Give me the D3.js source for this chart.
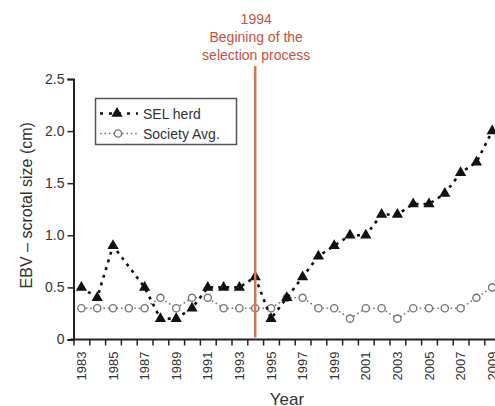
<!DOCTYPE html>
<html>
<head>
<meta charset="utf-8">
<script src="https://cdn.jsdelivr.net/npm/d3@7"></script>
<style>
  body { margin: 0; background: #fff; }
  svg { display: block; font-family: "Liberation Sans", Arial, sans-serif; }
</style>
</head>
<body>
<div id="chart"></div>
<script>
// data
const years = d3.range(1983, 2010);
const selHerd = [0.5, 0.4, 0.9, null, 0.5, 0.2, 0.2, 0.3, 0.5, 0.5, 0.5, 0.6, 0.2, 0.4,
  0.6, 0.8, 0.9, 1.0, 1.0, 1.2, 1.2, 1.3, 1.3, 1.4, 1.6, 1.7, 2.0];
const societyAvg = [0.3, 0.3, 0.3, 0.3, 0.3, 0.4, 0.3, 0.4, 0.4, 0.3, 0.3, 0.3, 0.3, 0.4,
  0.4, 0.3, 0.3, 0.2, 0.3, 0.3, 0.2, 0.3, 0.3, 0.3, 0.3, 0.4, 0.5];
const yTicks = [0, 0.5, 1.0, 1.5, 2.0, 2.5];
const labelYears = years.filter(y => (y - 1983) % 2 === 0);
const selectionYear = 1994;
const annotation = ['1994', 'Begining of the', 'selection process'];

const W = 495, H = 406;
const margin = {top: 79, left: 73.5};
const step = 15.8;
const plotH = 260.5;

const svg = d3.select('#chart').append('svg')
  .attr('width', W)
  .attr('height', H);

// year bands: points sit in the middle, ticks on the edges
const x = d3.scaleLinear()
  .domain([years[0] - 0.5, years[years.length - 1] + 0.5])
  .range([margin.left, margin.left + step * years.length]);
const y = d3.scaleLinear()
  .domain([0, 2.5])
  .range([margin.top + plotH, margin.top]);

// y axis
const yAxis = svg.append('g')
  .attr('transform', `translate(${margin.left},0)`)
  .call(d3.axisLeft(y).tickValues(yTicks).tickSize(6).tickPadding(3)
    .tickFormat(d => d === 0 ? '0' : d3.format('.1f')(d)));
yAxis.select('.domain').attr('stroke', '#222').attr('stroke-width', 2);
yAxis.selectAll('.tick line').attr('stroke', '#222').attr('stroke-width', 1.5);
yAxis.selectAll('.tick text')
  .attr('fill', '#333')
  .style('font-size', '14px');

// x axis
const xAxis = svg.append('g')
  .attr('transform', `translate(0,${y(0)})`)
  .call(d3.axisBottom(x)
    .tickValues(years.map(v => v - 0.5).concat([years[years.length - 1] + 0.5]))
    .tickSize(6).tickSizeOuter(0).tickFormat(''));
xAxis.select('.domain').attr('stroke', '#222').attr('stroke-width', 2)
  .attr('d', `M${margin.left - 3},0H${W}`);
xAxis.selectAll('.tick line').attr('stroke', '#222').attr('stroke-width', 1.5);

svg.append('g')
  .selectAll('text')
  .data(labelYears)
  .join('text')
    .attr('transform', d => `translate(${x(d) + 4.5},${y(0) + 12}) rotate(-90)`)
    .attr('text-anchor', 'end')
    .attr('fill', '#333')
    .style('font-size', '13px')
    .text(d => d);

// axis titles
svg.append('text')
  .attr('transform', `translate(32,${y(1.25) - 4}) rotate(-90)`)
  .attr('text-anchor', 'middle')
  .attr('fill', '#333')
  .style('font-size', '16px')
  .text('EBV – scrotal size (cm)');

svg.append('text')
  .attr('x', 287)
  .attr('y', 405)
  .attr('text-anchor', 'middle')
  .attr('fill', '#333')
  .style('font-size', '17px')
  .text('Year');

// series
const selPts = years.map((yr, i) => ({yr, v: selHerd[i]})).filter(d => d.v !== null);
const socPts = years.map((yr, i) => ({yr, v: societyAvg[i]}));

const line = d3.line().x(d => x(d.yr)).y(d => y(d.v));

svg.append('path')
  .datum(socPts)
  .attr('d', line)
  .attr('fill', 'none')
  .attr('stroke', '#777')
  .attr('stroke-width', 1.6)
  .attr('stroke-dasharray', '1.6,2.8');

svg.append('g')
  .selectAll('circle')
  .data(socPts)
  .join('circle')
    .attr('cx', d => x(d.yr))
    .attr('cy', d => y(d.v))
    .attr('r', 3.6)
    .attr('fill', '#fff')
    .attr('stroke', '#777')
    .attr('stroke-width', 1.4);

svg.append('path')
  .datum(selPts)
  .attr('d', line)
  .attr('fill', 'none')
  .attr('stroke', '#111')
  .attr('stroke-width', 2.6)
  .attr('stroke-dasharray', '3,5');

const tri = d3.symbol().type(d3.symbolTriangle).size(55);
svg.append('g')
  .selectAll('path')
  .data(selPts)
  .join('path')
    .attr('transform', d => `translate(${x(d.yr)},${y(d.v)})`)
    .attr('d', tri)
    .attr('fill', '#111');

// legend
const lg = svg.append('g');
lg.append('rect')
  .attr('x', 95.5).attr('y', 98.5)
  .attr('width', 141).attr('height', 46)
  .attr('fill', '#fff')
  .attr('stroke', '#555')
  .attr('stroke-width', 1.5);
const legendRows = [
  {name: 'SEL herd', yy: 113.5},
  {name: 'Society Avg.', yy: 133.5}
];
lg.append('line')
  .attr('x1', 100).attr('x2', 138).attr('y1', legendRows[0].yy).attr('y2', legendRows[0].yy)
  .attr('stroke', '#111').attr('stroke-width', 2.6).attr('stroke-dasharray', '3,6');
lg.append('path')
  .attr('transform', `translate(117,${legendRows[0].yy})`)
  .attr('d', tri)
  .attr('fill', '#111');
lg.append('line')
  .attr('x1', 100).attr('x2', 138).attr('y1', legendRows[1].yy).attr('y2', legendRows[1].yy)
  .attr('stroke', '#777').attr('stroke-width', 1.6).attr('stroke-dasharray', '1.6,2.8');
lg.append('circle')
  .attr('cx', 118).attr('cy', legendRows[1].yy).attr('r', 3.6)
  .attr('fill', '#fff').attr('stroke', '#777').attr('stroke-width', 1.4);
lg.selectAll('text.lbl')
  .data(legendRows)
  .join('text')
    .attr('class', 'lbl')
    .attr('x', 143)
    .attr('y', d => d.yy + 5)
    .attr('fill', '#333')
    .style('font-size', '14px')
    .text(d => d.name);

// selection marker
svg.append('line')
  .attr('x1', x(selectionYear)).attr('x2', x(selectionYear))
  .attr('y1', 66).attr('y2', y(0) - 2)
  .attr('stroke', '#d4735a')
  .attr('stroke-width', 2.5);

svg.append('g')
  .selectAll('text')
  .data(annotation)
  .join('text')
    .attr('x', x(selectionYear) + 1)
    .attr('y', (d, i) => 24 + i * 17.8)
    .attr('text-anchor', 'middle')
    .attr('fill', '#c8503c')
    .style('font-size', '14px')
    .text(d => d);
</script>
</body>
</html>
